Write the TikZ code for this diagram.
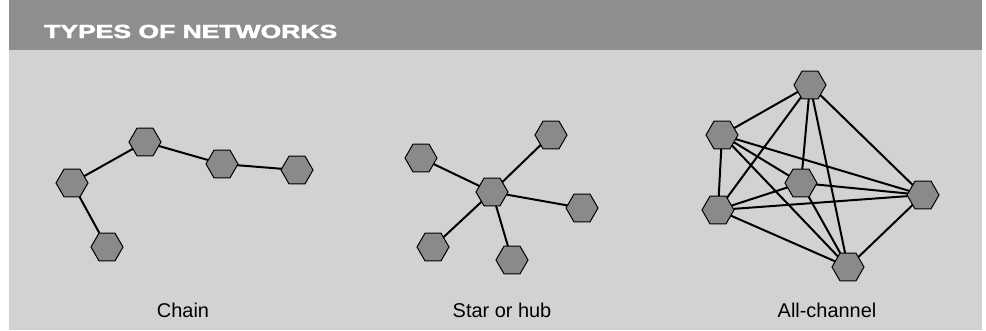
\documentclass[tikz,border=0pt]{standalone}
\usepackage{fontspec}
\setmainfont{Liberation Sans}
\newfontfamily\titlefont[FakeBold=2.2]{Liberation Sans Bold}
\usetikzlibrary{shapes.geometric,backgrounds}
\definecolor{panelgray}{HTML}{D2D2D2}
\definecolor{bargray}{HTML}{8E8E8E}
\definecolor{hexgray}{HTML}{8A8A8A}
\begin{document}
\begin{tikzpicture}[x=1bp, y=-1bp,
    hex/.style={regular polygon, regular polygon sides=6, minimum size=32bp,
        inner sep=0pt, outer sep=0pt, draw=black, line width=1bp, fill=hexgray},
    link/.style={line width=2bp, black},
    caption/.style={font=\fontsize{20}{24}\selectfont, anchor=base}]
    \useasboundingbox (0,0) rectangle (986,330);
    % Hintergrund und Kopfzeile
    \begin{scope}[on background layer]
        \fill[panelgray] (9,0) rectangle (982,330);
        \fill[bargray] (9,0) rectangle (982,50);
    \end{scope}
    \node[anchor=base west, text=white, inner sep=0pt] (title) at (44,38)
        {\scalebox{1.4}[1]{\fontsize{19}{20}\selectfont\titlefont TYPES OF NETWORKS}};
    
    % Kette
    \node[hex] (c1) at (72,183) {};
    \node[hex] (c2) at (145,142) {};
    \node[hex] (c3) at (222,164) {};
    \node[hex] (c4) at (297,170) {};
    \node[hex] (c5) at (107,247) {};
    \begin{scope}[on background layer]
        \draw[link] (c5) -- (c1) -- (c2) -- (c3) -- (c4);
    \end{scope}
    \node[caption] (chain) at (183,317) {Chain};
    
    % Stern
    \node[hex] (s0) at (492,192) {};
    \node[hex] (s1) at (421,158) {};
    \node[hex] (s2) at (551,135) {};
    \node[hex] (s3) at (582,208) {};
    \node[hex] (s4) at (512,260) {};
    \node[hex] (s5) at (433,247) {};
    \begin{scope}[on background layer]
        \foreach \k in {1,...,5} {
            \draw[link] (s0) -- (s\k);
        }
    \end{scope}
    \node[caption] (star) at (502,317) {Star or hub};
    
    % Vollstaendig vernetzt
    \node[hex] (a1) at (810,85) {};
    \node[hex] (a2) at (722,135) {};
    \node[hex] (a3) at (718,210) {};
    \node[hex] (a4) at (801,183) {};
    \node[hex] (a5) at (923,195) {};
    \node[hex] (a6) at (848,267) {};
    \begin{scope}[on background layer]
        \foreach \i in {1,...,5} {
            \pgfmathtruncatemacro{\n}{\i+1}
            \foreach \j in {\n,...,6} {
                \draw[link] (a\i) -- (a\j);
            }
        }
    \end{scope}
    \node[caption] (allch) at (827,317) {All-channel};
\end{tikzpicture}
\end{document}
